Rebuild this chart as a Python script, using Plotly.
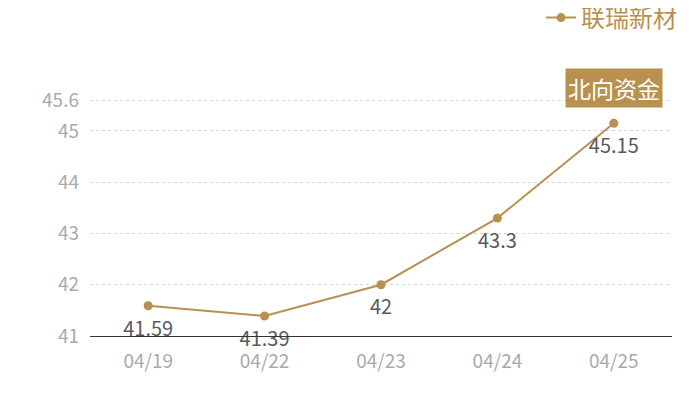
import plotly.graph_objects as go

dates = ["04/19", "04/22", "04/23", "04/24", "04/25"]
values = [41.59, 41.39, 42.0, 43.3, 45.15]
labels = ["41.59", "41.39", "42", "43.3", "45.15"]
series_name = "联瑞新材"
tag_text = "北向资金"
y_ticks = [41, 42, 43, 44, 45, 45.6]
y_tick_text = ["41", "42", "43", "44", "45", "45.6"]

gold = "#b8914f"
font_family = "Noto Sans CJK SC, Noto Sans, sans-serif"

fig = go.Figure()
fig.add_trace(go.Scatter(
    x=dates, y=values, mode="lines+markers", name=series_name,
    line=dict(color=gold, width=2),
    marker=dict(color=gold, size=9),
))
# value labels (invisible, larger markers to push labels a bit further down)
fig.add_trace(go.Scatter(
    x=dates, y=values, mode="markers+text", showlegend=False, hoverinfo="skip",
    marker=dict(color="rgba(0,0,0,0)", size=22),
    text=labels, textposition="bottom center", cliponaxis=False,
    textfont=dict(size=20, color="#5a5a5a", family=font_family),
))

fig.add_annotation(
    x=dates[-1], y=1.029, xref="x", yref="paper", yanchor="middle",
    text=tag_text, showarrow=False, bgcolor=gold,
    font=dict(size=23, color="white", family=font_family),
    borderpad=2,
)

fig.update_layout(
    width=700, height=400,
    margin=dict(l=82, r=36, t=87, b=72),
    paper_bgcolor="white", plot_bgcolor="white",
    font=dict(family=font_family),
    showlegend=True,
    legend=dict(x=0.775, y=0.975, xref="paper", yref="container",
                xanchor="left", yanchor="middle",
                font=dict(size=24, color=gold, family=font_family),
                bgcolor="rgba(0,0,0,0)"),
    xaxis=dict(type="category", range=[-0.5, 4.5], showgrid=False,
               showline=True, linecolor="#333", linewidth=1,
               ticks="", tickfont=dict(size=19, color="#aaaaaa"),
               ticklabelstandoff=8, automargin=False),
    yaxis=dict(range=[41, 45.7], tickvals=y_ticks, ticktext=y_tick_text,
               showgrid=True, gridcolor="#d5d5d5", griddash="dot",
               zeroline=False, showline=False, ticks="",
               tickfont=dict(size=19, color="#aaaaaa"),
               ticklabelstandoff=10, automargin=False),
)

fig.write_html("out.html")
